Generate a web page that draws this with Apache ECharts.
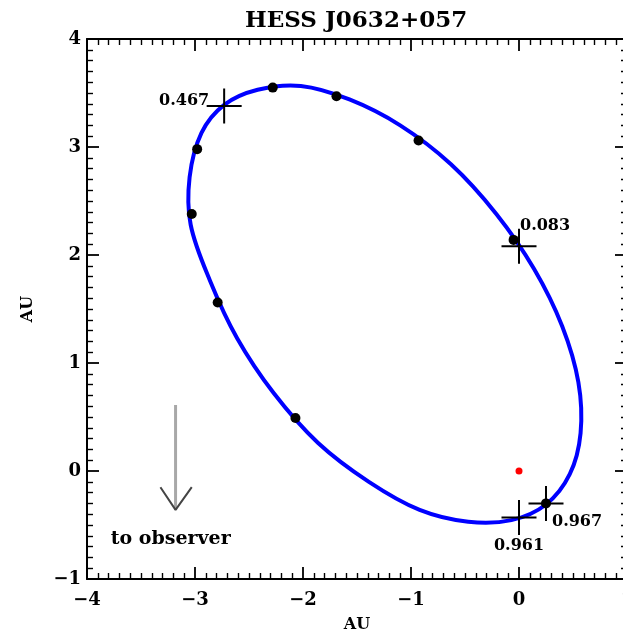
<!DOCTYPE html>
<html>
<head>
<meta charset="utf-8">
<script src="https://cdn.jsdelivr.net/npm/echarts@6/dist/echarts.min.js"></script>
<style>
  html, body { margin: 0; padding: 0; background: #fff; }
  #chart { width: 623px; height: 637px; }
</style>
</head>
<body>
<div id="chart"></div>
<script>
// Orbit of HESS J0632+057 projected on the sky plane (AU), starting at periastron
const orbitPath = [
  [0.25, -0.31], [0.47, -0.03], [0.57, 0.35], [0.55, 0.82], [0.40, 1.34],
  [0.14, 1.87], [-0.21, 2.38], [-0.63, 2.84], [-1.10, 3.20], [-1.57, 3.44],
  [-2.02, 3.565], [-2.42, 3.53], [-2.73, 3.39], [-2.94, 3.13], [-3.05, 2.72],
  [-3.04, 2.28], [-2.86, 1.76], [-2.61, 1.23], [-2.27, 0.72], [-1.86, 0.26],
  [-1.39, -0.10], [-0.92, -0.36], [-0.47, -0.47], [-0.07, -0.455]
];

// Positions at evenly spaced orbital phases
const phaseDots = [
  [-0.05, 2.14], [-0.93, 3.06], [-1.69, 3.47], [-2.28, 3.55], [-2.98, 2.98],
  [-3.03, 2.38], [-2.79, 1.56], [-2.07, 0.49], [0.25, -0.30]
];

// Marked phases
const markedPhases = ['0.467', '0.083', '0.967', '0.961'];
const markedX = [-2.73, 0.00, 0.25, 0.00];
const markedY = [3.38, 2.08, -0.30, -0.43];

// Be star at the focus
const starPos = [[0, 0]];

// Direction to the observer
const observerShaft = [[-3.18, 0.61], [-3.18, -0.36]];
const observerHead = [[-3.32, -0.15], [-3.18, -0.36], [-3.03, -0.15]];
const observerText = [[-3.78, -0.63]];

const xTicks = { min: -4, max: 1, interval: 1 };
const yTicks = { min: -1, max: 4, interval: 1 };

const FONT = 'DejaVu Serif';
const minus = v => String(v).replace('-', '\u2212');

// label placement around each cross
const crossLabelLayout = [
  { align: 'right', offset: [-15, -5] },
  { align: 'left', offset: [1, -21] },
  { align: 'left', offset: [6, 18] },
  { align: 'center', offset: [0, 28] }
];

const plusSymbol = 'path://M0,16.5h35v2h-35z M16.5,0h2v35h-2z';

function frameAxis(pos, ticks, showLabel, extra) {
  return Object.assign({
    type: 'value',
    position: pos,
    min: ticks.min,
    max: ticks.max,
    interval: ticks.interval,
    axisLine: { show: true, onZero: false, lineStyle: { color: '#000', width: 2 } },
    axisTick: { show: true, inside: true, length: 12, lineStyle: { color: '#000', width: 1.8 } },
    minorTick: { show: true, splitNumber: 10, length: 6, lineStyle: { color: '#000', width: 1.4 } },
    splitLine: { show: false },
    minorSplitLine: { show: false },
    axisLabel: showLabel ? {
      show: true, color: '#000', fontFamily: FONT, fontWeight: 'bold', fontSize: 18,
      formatter: minus
    } : { show: false }
  }, extra || {});
}

// closed smooth curve through the orbit samples, placed with the cartesian axes
function renderOrbit(params, api) {
  if (params.dataIndex !== 0) return null;
  const pts = orbitPath.map(p => api.coord(p));
  return {
    type: 'polygon',
    shape: { points: pts, smooth: 0.35 },
    style: { fill: null, stroke: '#0000ff', lineWidth: 4 },
    silent: true
  };
}

const chart = echarts.init(document.getElementById('chart'), null, { renderer: 'canvas' });

chart.setOption({
  backgroundColor: '#fff',
  animation: false,
  title: {
    text: 'HESS J0632+057',
    left: 240,
    top: 5,
    textStyle: { color: '#000', fontFamily: FONT, fontWeight: 'bold', fontSize: 23 }
  },
  grid: {
    left: 87, top: 39, width: 540, height: 540,
    containLabel: false, outerBoundsMode: 'none'
  },
  xAxis: [
    frameAxis('bottom', xTicks, true, {
      name: 'AU', nameLocation: 'middle', nameGap: 38,
      nameTextStyle: { color: '#000', fontFamily: FONT, fontWeight: 'bold', fontSize: 16 },
      axisLabel: { show: true, color: '#000', fontFamily: FONT, fontWeight: 'bold', fontSize: 18, margin: 12, formatter: minus }
    }),
    frameAxis('top', xTicks, false)
  ],
  yAxis: [
    frameAxis('left', yTicks, true, {
      name: 'AU', nameLocation: 'middle', nameGap: 51, nameRotate: 90,
      nameTextStyle: { color: '#000', fontFamily: FONT, fontWeight: 'bold', fontSize: 16 },
      axisLabel: { show: true, color: '#000', fontFamily: FONT, fontWeight: 'bold', fontSize: 18, margin: 6, formatter: minus }
    }),
    frameAxis('right', yTicks, false)
  ],
  series: [
    {
      name: 'orbit',
      type: 'custom',
      renderItem: renderOrbit,
      data: orbitPath,
      encode: { x: 0, y: 1 },
      z: 2
    },
    {
      name: 'phases',
      type: 'scatter',
      data: phaseDots,
      symbol: 'circle',
      symbolSize: 10,
      itemStyle: { color: '#000', opacity: 1 },
      z: 3
    },
    {
      name: 'marked',
      type: 'scatter',
      symbol: plusSymbol,
      symbolSize: 35,
      itemStyle: { color: '#000', opacity: 1 },
      z: 4,
      data: markedPhases.map((p, i) => ({
        value: [markedX[i], markedY[i]],
        label: {
          show: true,
          formatter: p,
          position: 'inside',
          align: crossLabelLayout[i].align,
          verticalAlign: 'middle',
          offset: crossLabelLayout[i].offset,
          color: '#000',
          opacity: 1,
          fontFamily: FONT,
          fontWeight: 'bold',
          fontSize: 16
        }
      }))
    },
    {
      name: 'star',
      type: 'scatter',
      data: starPos,
      symbol: 'circle',
      symbolSize: 7,
      itemStyle: { color: '#ff0000', opacity: 1 },
      z: 3
    },
    {
      name: 'observer shaft',
      type: 'line',
      data: observerShaft,
      symbol: 'none',
      lineStyle: { color: '#a8a8a8', width: 3 },
      z: 2
    },
    {
      name: 'observer head',
      type: 'line',
      data: observerHead,
      symbol: 'none',
      lineStyle: { color: '#444', width: 2 },
      z: 2
    },
    {
      name: 'observer label',
      type: 'scatter',
      data: observerText,
      symbolSize: 0,
      itemStyle: { opacity: 1 },
      label: {
        show: true,
        formatter: 'to observer',
        position: 'inside',
        align: 'left',
        verticalAlign: 'middle',
        color: '#000',
        opacity: 1,
        fontFamily: FONT,
        fontWeight: 'bold',
        fontSize: 19
      },
      z: 3
    }
  ]
});
</script>
</body>
</html>
